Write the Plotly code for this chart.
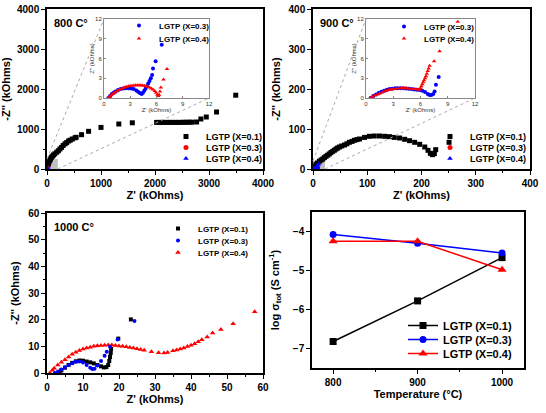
import plotly.graph_objects as go

W, H = 546, 413

# ---------------- data (kOhms) ----------------
# 800 C, X=0.1 (main panel)
z800_x01_re = [3, 8, 15, 25, 35, 50, 65, 80, 100, 120, 145, 180, 210, 240, 270, 300, 335, 365, 400, 430, 470, 520, 540, 640, 770, 1000, 1330, 1580,
               2030, 2080, 2130, 2180, 2230, 2280, 2330, 2380, 2430, 2480, 2530, 2580, 2630, 2680, 2770, 2850, 2950, 3140, 3495]
z800_x01_im = [8, 40, 80, 130, 170, 210, 250, 290, 320, 350, 380, 420, 455, 500, 540, 590, 630, 660, 700, 720, 750, 780, 792, 858, 942, 1040, 1125, 1155,
               1165, 1165, 1165, 1165, 1165, 1165, 1165, 1165, 1165, 1165, 1168, 1168, 1170, 1170, 1175, 1250, 1300, 1425, 1845]
# 800 C inset, X=0.3 and X=0.4
z800_x03_re = [0.5, 0.7, 0.9, 1.1, 1.3, 1.6, 1.9, 2.2, 2.5, 2.8, 3.1, 3.4, 3.7, 3.9, 4.1, 4.3, 4.45, 4.6, 4.75, 4.9, 5.05, 5.2, 5.35, 5.5, 5.6, 5.9, 6.6]
z800_x03_im = [0.0, 0.3, 0.6, 0.8, 1.0, 1.2, 1.35, 1.45, 1.5, 1.5, 1.45, 1.35, 1.15, 0.95, 0.75, 0.6, 0.8, 1.1, 1.4, 1.8, 2.2, 2.6, 3.0, 3.5, 4.5, 5.6, 8.1]
z800_x04_re = [0.5, 0.65, 0.8, 1.0, 1.2, 1.4, 1.6, 1.8, 2.0, 2.2, 2.4, 2.6, 2.8, 3.0, 3.2, 3.4, 3.6, 3.8, 4.0, 4.2, 4.4, 4.6, 4.8, 5.0, 5.2, 5.4, 5.6, 5.8, 5.95, 6.1, 6.2, 6.3, 6.4, 6.5, 6.8, 7.2]
z800_x04_im = [0.0, 0.2, 0.4, 0.6, 0.8, 1.0, 1.15, 1.3, 1.42, 1.52, 1.62, 1.7, 1.77, 1.83, 1.87, 1.9, 1.92, 1.93, 1.93, 1.92, 1.9, 1.86, 1.8, 1.72, 1.6, 1.45, 1.28, 1.05, 0.8, 0.5, 0.3, 0.5, 1.0, 1.6, 2.8, 4.4]

# 900 C, X=0.1 (main panel)
z900_x01_re = [1, 2.5, 4, 5.5, 8, 11.7, 15, 18, 21, 24, 27, 30, 33, 36.4, 39.5, 42.5, 45.5, 48.7, 53, 58, 62.5, 67, 72, 76.4, 81, 85.7, 95, 104, 113, 122.6,
               132, 141, 150, 159.6, 169, 178, 187.4, 196.6, 206, 212, 216.3, 220, 223.7, 226.2, 250.8]
z900_x01_im = [1, 3, 6, 10.8, 15, 19.2, 22.5, 25, 28.5, 31.7, 34.5, 37.5, 41, 44.2, 47, 50, 52.5, 55, 57.5, 60, 63, 66.7, 69, 71.7, 73.5, 75, 79, 81.7, 82.5, 82.5,
               81.7, 80.8, 79, 77.5, 74.2, 70.8, 66.7, 61.7, 55, 46.7, 39.2, 35.8, 38.3, 48.3, 66.7]
# 900 C inset, X=0.3 and X=0.4
z900_x03_re = [0.5, 0.8, 1.1, 1.4, 1.7, 2.0, 2.3, 2.6, 2.9, 3.2, 3.5, 3.8, 4.1, 4.4, 4.7, 5.0, 5.3, 5.6, 5.9, 6.2, 6.5, 6.8, 7.0, 7.2, 7.4, 7.55, 7.7, 8.0]
z900_x03_im = [0.0, 0.3, 0.55, 0.75, 0.95, 1.1, 1.25, 1.35, 1.42, 1.48, 1.5, 1.5, 1.48, 1.45, 1.4, 1.35, 1.3, 1.25, 1.2, 1.1, 0.9, 0.6, 0.45, 0.45, 0.6, 1.0, 2.0, 3.2]
z900_x04_re = [0.5, 0.75, 1.0, 1.25, 1.5, 1.75, 2.0, 2.25, 2.5, 2.75, 3.0, 3.25, 3.5, 3.75, 4.0, 4.25, 4.5, 4.75, 5.0, 5.25, 5.5, 5.75, 5.9, 6.0, 6.1, 6.2, 6.3, 6.4,
               6.5, 6.6, 6.7, 6.8, 6.9, 7.0, 7.5, 8.1, 10.1]
z900_x04_im = [0.0, 0.2, 0.4, 0.55, 0.7, 0.85, 0.98, 1.1, 1.2, 1.28, 1.35, 1.4, 1.45, 1.48, 1.5, 1.5, 1.48, 1.45, 1.42, 1.38, 1.33, 1.28, 1.3, 1.5, 1.8, 2.1, 2.4, 2.7,
               3.0, 3.3, 3.7, 4.1, 4.5, 4.9, 5.6, 7.1, 11.6]

# 1000 C
z1000_x01_re = [3.0, 3.5, 4.0, 5.0, 6.0, 7.0, 8.0, 9.0, 10.0, 11.0, 12.0, 13.0, 14.0, 15.0, 15.8, 16.5, 17.0, 17.3, 17.5, 17.7, 17.8, 19.8, 23.3]
z1000_x01_im = [0.0, 0.5, 1.0, 2.0, 3.0, 3.8, 4.4, 4.7, 4.6, 4.3, 4.0, 3.6, 3.0, 2.5, 2.1, 2.2, 3.0, 4.5, 6.0, 7.5, 9.0, 12.9, 20.1]
z1000_x03_re = [2.2, 3.0, 4.0, 5.0, 6.0, 7.0, 8.0, 9.0, 10.0, 11.0, 12.0, 12.6, 13.2, 14.0, 15.0, 16.0, 16.6, 17.5, 19.6, 24.3]
z1000_x03_im = [0.0, 0.5, 1.3, 2.2, 3.0, 3.7, 4.2, 4.3, 3.9, 3.0, 2.0, 1.5, 1.6, 2.8, 4.5, 6.5, 8.0, 9.8, 12.6, 19.5]
z1000_x04_re = [0.8, 1.5, 2.0, 3.0, 4.0, 5.0, 6.0, 7.0, 8.0, 9.0, 10.0, 11.0, 12.0, 13.0, 14.0, 15.0, 16.0, 17.0, 18.0, 19.0, 20.0, 21.0, 22.0, 23.0, 24.0,
                25.0, 26.0, 27.0, 29.0, 31.0, 32.5, 33.5, 35.0, 36.0, 37.0, 38.0, 39.0, 40.0, 41.0, 42.0, 43.0, 44.5, 46.0, 48.3, 51.7, 57.7]
z1000_x04_im = [0.0, 1.0, 1.8, 3.0, 4.0, 5.0, 6.0, 7.0, 7.8, 8.4, 9.0, 9.4, 9.7, 10.0, 10.2, 10.3, 10.4, 10.5, 10.5, 10.3, 10.1, 10.0, 9.8, 9.6, 9.4,
                9.1, 8.8, 8.5, 8.0, 7.6, 7.5, 7.7, 8.3, 8.6, 9.0, 9.4, 9.9, 10.4, 11.0, 11.7, 12.5, 13.5, 15.0, 16.3, 18.5, 23.0]

# conductivity
temps = [800, 900, 1000]
logsig_x01 = [-6.82, -5.78, -4.67]
logsig_x03 = [-4.08, -4.30, -4.55]
logsig_x04 = [-4.25, -4.25, -4.98]

labels = ["LGTP (X=0.1)", "LGTP (X=0.3)", "LGTP (X=0.4)"]

# ---------------- layout geometry (pixels) ----------------
def dx(a, b):
    return [a / W, b / W]

def dy(top, bottom):
    return [1 - bottom / H, 1 - top / H]

FONT = "Liberation Sans, Arial, sans-serif"
BLACK, RED, BLUE = "#000000", "#ff0000", "#0000ff"

fig = go.Figure()

panels = {
    "tl": ("x", "y", 47, 263, 9, 169, [0, 4000], [0, 4000]),
    "tr": ("x2", "y2", 313, 530, 9, 169, [0, 400], [0, 400]),
    "bl": ("x3", "y3", 47, 263, 213, 373, [0, 60], [0, 60]),
    "br": ("x4", "y4", 312, 524, 212, 368, [775, 1026], [-7.5, -3.5]),
    "tli": ("x5", "y5", 104, 209, 19, 98, [0, 12], [0, 12]),
    "tri": ("x6", "y6", 366, 475, 19, 98, [0, 12], [0, 12]),
}

leg_count = [0]
legend_layouts = {}

def new_legend(px, py, fs):
    leg_count[0] += 1
    n = leg_count[0]
    key = "legend" if n == 1 else f"legend{n}"
    legend_layouts[key] = dict(
        x=(px - 20) / W, y=1 - (py - 14) / H, xanchor="left", yanchor="top",
        bgcolor="rgba(0,0,0,0)", borderwidth=0,
        font=dict(family=FONT, size=fs, color="black", weight="bold"),
        itemwidth=30,
    )
    return key

def add(xs, ys, panel, name, color, symbol, size, mode="markers", leg=None):
    xa, ya = panels[panel][0], panels[panel][1]
    kw = {}
    if leg is not None:
        kw["legend"] = new_legend(*leg)
        kw["showlegend"] = True
    else:
        kw["showlegend"] = False
    fig.add_trace(go.Scatter(
        x=xs, y=ys, mode=mode, name=name, xaxis=xa, yaxis=ya,
        marker=dict(color=color, symbol=symbol, size=size, line=dict(width=0)),
        line=dict(color=color, width=1.5), **kw))

# top-left 800 C
add(z800_x01_re, z800_x01_im, "tl", labels[0], BLACK, "square", 5, leg=(186, 136, 9))
add(z800_x03_re, z800_x03_im, "tl", labels[1], RED, "circle", 5, leg=(186, 147, 9))
add(z800_x04_re, z800_x04_im, "tl", labels[2], BLUE, "triangle-up", 5, leg=(186, 158, 9))
add(z800_x03_re, z800_x03_im, "tli", labels[1], BLUE, "circle", 4, leg=(139, 25, 8))
add(z800_x04_re, z800_x04_im, "tli", labels[2], RED, "triangle-up", 4, leg=(139, 38, 8))

# top-right 900 C
add(z900_x01_re, z900_x01_im, "tr", labels[0], BLACK, "square", 5, leg=(450, 136, 9))
add(z900_x03_re, z900_x03_im, "tr", labels[1], RED, "circle", 5, leg=(450, 147, 9))
add(z900_x04_re, z900_x04_im, "tr", labels[2], BLUE, "triangle-up", 5, leg=(450, 158, 9))
add(z900_x03_re, z900_x03_im, "tri", labels[1], BLUE, "circle", 4, leg=(404, 26, 8))
add(z900_x04_re, z900_x04_im, "tri", labels[2], RED, "triangle-up", 4, leg=(404, 38, 8))

# bottom-left 1000 C
add(z1000_x04_re, z1000_x04_im, "bl", labels[2], RED, "triangle-up", 5, leg=(178, 252, 8))
add(z1000_x01_re, z1000_x01_im, "bl", labels[0], BLACK, "square", 4, leg=(178, 228, 8))
add(z1000_x03_re, z1000_x03_im, "bl", labels[1], BLUE, "circle", 4, leg=(178, 240, 8))

# bottom-right conductivity
add(temps, logsig_x01, "br", labels[0], BLACK, "square", 7, mode="lines+markers", leg=(423, 325, 11))
add(temps, logsig_x03, "br", labels[1], BLUE, "circle", 7, mode="lines+markers", leg=(423, 339, 11))
add(temps, logsig_x04, "br", labels[2], RED, "triangle-up", 8, mode="lines+markers", leg=(423, 353, 11))

tickfont = dict(family=FONT, size=10, color="black", weight="bold")
titlefont = dict(family=FONT, size=11, color="black", weight="bold")
insfont = dict(family=FONT, size=6, color="#333333")

def axis(panel, which, dtick, minor, title, inset=False, tickvals=None):
    p = panels[panel]
    if which == "x":
        dom = dx(p[2], p[3]); rng = p[6]; anchor = p[1]
    else:
        dom = dy(p[4], p[5]); rng = p[7]; anchor = p[0]
    d = dict(domain=dom, range=rng, anchor=anchor, showgrid=False, zeroline=False,
             automargin=False,
             showline=True, linecolor="black" if not inset else "#888888",
             linewidth=1.5 if not inset else 1, mirror=True,
             ticks="outside" if not inset else "inside", ticklen=4 if not inset else 2,
             tickcolor="black" if not inset else "#888888",
             tickfont=tickfont if not inset else insfont,
             title=dict(text=title, font=titlefont if not inset else insfont,
                        standoff=4 if not inset else 0))
    if tickvals is not None:
        d["tickvals"] = tickvals
    else:
        d["dtick"] = dtick
        d["tick0"] = 0
    if minor is not None and not inset:
        d["minor"] = dict(dtick=minor, ticks="outside", ticklen=2, tickcolor="black")
    return d

zt = "Z' (kOhms)"
zit = "-Z'' (kOhms)"
lay = dict(
    xaxis=axis("tl", "x", 1000, 500, zt),
    yaxis=axis("tl", "y", 1000, 500, zit),
    xaxis2=axis("tr", "x", 100, 50, zt),
    yaxis2=axis("tr", "y", 100, 50, zit),
    xaxis3=axis("bl", "x", 10, 5, zt),
    yaxis3=axis("bl", "y", 10, 5, zit),
    xaxis4=axis("br", "x", None, None, "Temperature (°C)", tickvals=temps),
    yaxis4=axis("br", "y", 1, None, "log σ<sub>tot</sub> (S cm<sup>-1</sup>)"),
    xaxis5=axis("tli", "x", 3, None, zt, inset=True),
    yaxis5=axis("tli", "y", 3, None, "Z'' (kOhms)", inset=True),
    xaxis6=axis("tri", "x", 3, None, zt, inset=True),
    yaxis6=axis("tri", "y", 3, None, "Z'' (kOhms)", inset=True),
)
lay["yaxis4"]["tick0"] = -7
lay["xaxis4"]["minor"] = dict(tickvals=[850, 950], ticks="outside", ticklen=2, tickcolor="black")
for k in ["yaxis", "yaxis2", "yaxis3"]:
    lay[k]["title"]["standoff"] = 6
lay["yaxis4"]["title"]["standoff"] = 11

# zoom rectangles and connector lines
zoom_boxes = {"tl": (200, 250, "tli"), "tr": (22, 20, "tri")}
shapes = []
for panel, (zx, zy, ins) in zoom_boxes.items():
    p = panels[panel]
    xa, ya = p[0], p[1]
    shapes.append(dict(type="rect", xref=xa, yref=ya, x0=0, x1=zx, y0=0, y1=zy,
                       fillcolor="rgba(150,150,150,0.6)", line=dict(width=0), layer="below"))
    bx0 = p[2] / W
    bx1 = (p[2] + (p[3] - p[2]) * zx / (p[6][1] - p[6][0])) / W
    by0 = 1 - p[5] / H
    by1 = 1 - (p[5] - (p[5] - p[4]) * zy / (p[7][1] - p[7][0])) / H
    q = panels[ins]
    ix0, ix1 = q[2] / W, q[3] / W
    iy0, iy1 = 1 - q[5] / H, 1 - q[4] / H
    shapes.append(dict(type="line", xref="paper", yref="paper", x0=bx0, y0=by1, x1=ix0, y1=iy1,
                       line=dict(color="#aaaaaa", width=1, dash="dot")))
    shapes.append(dict(type="line", xref="paper", yref="paper", x0=bx1, y0=by0, x1=ix1, y1=iy0,
                       line=dict(color="#aaaaaa", width=1, dash="dot")))

annotations = []
for panel, txt in [("tl", "800 C°"), ("tr", "900 C°"), ("bl", "1000 C°")]:
    p = panels[panel]
    annotations.append(dict(text=txt, xref="paper", yref="paper", x=(p[2] + 5) / W, y=1 - (p[4] + 6) / H,
                            xanchor="left", yanchor="top", showarrow=False,
                            font=dict(family=FONT, size=11, color="black", weight="bold")))

fig.update_layout(
    width=W, height=H, margin=dict(l=0, r=0, t=0, b=0),
    paper_bgcolor="white", plot_bgcolor="white",
    shapes=shapes, annotations=annotations,
    **lay, **legend_layouts,
)

fig.write_html("out.html", config={"displayModeBar": False},
               post_script="document.body.style.margin='0';")
